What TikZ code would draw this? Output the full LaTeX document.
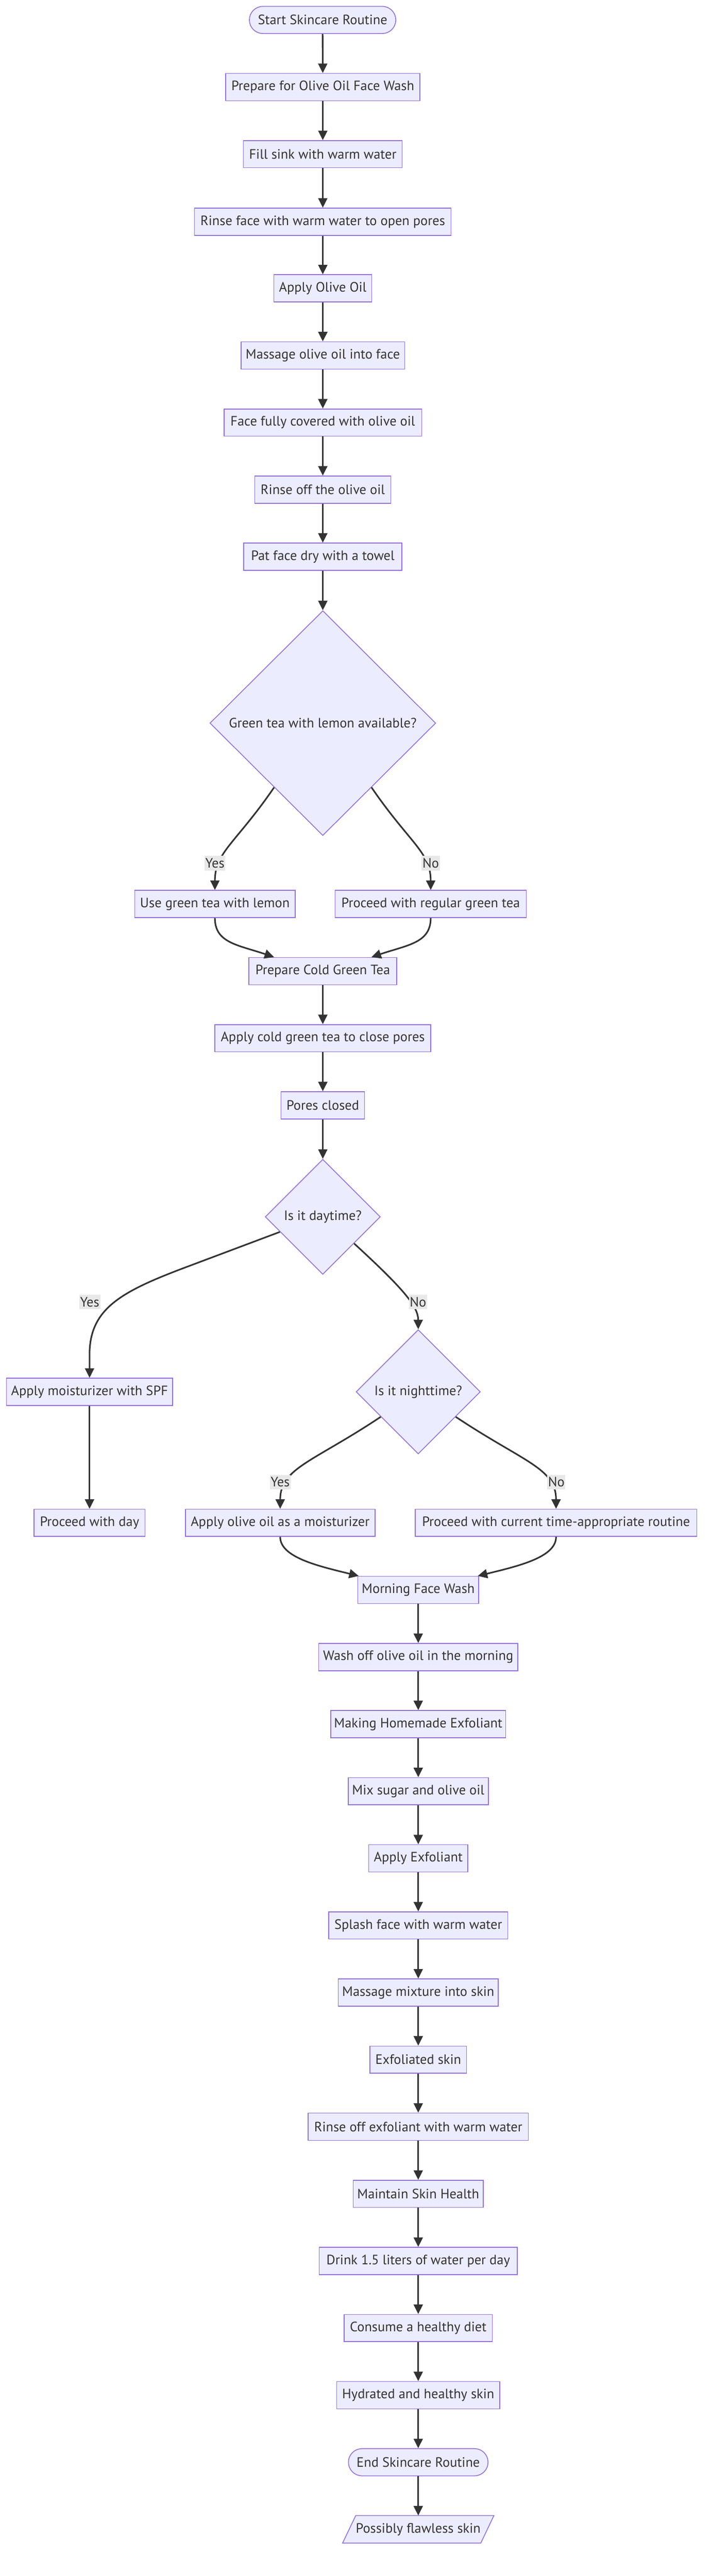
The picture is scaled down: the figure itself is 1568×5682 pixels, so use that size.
\documentclass[tikz,border=0pt]{standalone}
\usepackage{fontspec}
\setmainfont{PT Sans}
\usetikzlibrary{shapes.geometric,arrows.meta,calc,backgrounds}
\definecolor{nodefill}{HTML}{ECECFF}
\definecolor{nodeborder}{HTML}{9370DB}
\definecolor{edgecol}{HTML}{333333}
\definecolor{textcol}{HTML}{333333}
\definecolor{labelbg}{HTML}{E8E8E8}
\begin{document}
\begin{tikzpicture}[x=0.5pt,y=-0.5pt,
  txt/.style={text=textcol, font=\fontsize{15}{17}\selectfont},
  box/.style={txt, draw=nodeborder, fill=nodefill, line width=0.9pt, minimum height=30pt, inner sep=0pt},
  term/.style={box, rounded corners=15pt},
  decision/.style={txt, diamond, draw=nodeborder, fill=nodefill, line width=0.9pt, inner sep=0pt},
  flow/.style={draw=edgecol, line width=1.75pt, -{Triangle[length=10.5pt,width=10pt]}},
  elabel/.style={txt, fill=labelbg, inner sep=1pt, minimum height=16pt}
]
\begin{scope}[on background layer]
  \fill[white] (0,0) rectangle (1568,5682);
\end{scope}
\useasboundingbox (0,0) rectangle (1568,5682);

% ---- upper column
\node[term, minimum width=161.5pt] (start) at (711.5,44) {Start Skincare Routine};
\node[box, minimum width=214pt] (prep) at (712,192) {Prepare for Olive Oil Face Wash};
\node[box, minimum width=175pt] (fill) at (712,340) {Fill sink with warm water};
\node[box, minimum width=283pt] (rinse) at (712,489) {Rinse face with warm water to open pores};
\node[box, minimum width=108pt] (apply) at (712,636) {Apply Olive Oil};
\node[box, minimum width=180.5pt] (massage) at (712,784) {Massage olive oil into face};
\node[box, minimum width=218pt] (face) at (712,932) {Face fully covered with olive oil};
\node[box, minimum width=150pt] (rinseoff) at (712,1080) {Rinse off the olive oil};
\node[box, minimum width=174.5pt] (pat) at (712,1228) {Pat face dry with a towel};
\node[decision, minimum width=249pt, minimum height=248pt] (d1) at (712,1595) {Green tea with lemon available?};
\node[box, minimum width=177pt] (usegreen) at (474,1994) {Use green tea with lemon};
\node[box, minimum width=211pt] (procreg) at (950,1994) {Proceed with regular green tea};
\node[box, minimum width=163pt] (prepcold) at (712,2142) {Prepare Cold Green Tea};
\node[box, minimum width=238pt] (applycold) at (712,2290) {Apply cold green tea to close pores};
\node[box, minimum width=92pt] (pores) at (712,2438) {Pores closed};
\node[decision, minimum width=127pt, minimum height=127pt] (d2) at (712,2684) {Is it daytime?};
\node[box, minimum width=183.5pt] (spf) at (197.5,3070) {Apply moisturizer with SPF};
\node[decision, minimum width=137pt, minimum height=137pt] (night) at (922.5,3070) {Is it nighttime?};
\node[box, minimum width=122.5pt] (day) at (197.5,3359) {Proceed with day};
\node[box, minimum width=209pt] (olivem) at (618,3359) {Apply olive oil as a moisturizer};
\node[box, minimum width=310.5pt] (proccur) at (1226.5,3359) {Proceed with current time-appropriate routine};

% ---- lower column
\node[box, minimum width=133.5pt] (morning) at (922.5,3507) {Morning Face Wash};
\node[box, minimum width=219.5pt] (washoff) at (922.5,3655) {Wash off olive oil in the morning};
\node[box, minimum width=193pt] (making) at (922.5,3803) {Making Homemade Exfoliant};
\node[box, minimum width=154.5pt] (mix) at (922.5,3951) {Mix sugar and olive oil};
\node[box, minimum width=109.5pt] (applyexf) at (922.5,4099) {Apply Exfoliant};
\node[box, minimum width=197.5pt] (splash) at (922.5,4247) {Splash face with warm water};
\node[box, minimum width=176.5pt] (massmix) at (922.5,4395) {Massage mixture into skin};
\node[box, minimum width=106.5pt] (exfol) at (922.5,4543) {Exfoliated skin};
\node[box, minimum width=243pt] (rinseexf) at (922.5,4691) {Rinse off exfoliant with warm water};
\node[box, minimum width=143.5pt] (maintain) at (922.5,4839) {Maintain Skin Health};
\node[box, minimum width=218.5pt] (drink) at (922.5,4987) {Drink 1.5 liters of water per day};
\node[box, minimum width=163.5pt] (consume) at (922.5,5135) {Consume a healthy diet};
\node[box, minimum width=180pt] (hydrated) at (922.5,5283) {Hydrated and healthy skin};
\node[term, minimum width=154pt] (endnode) at (922.5,5431) {End Skincare Routine};
\node[txt, minimum width=166.5pt, minimum height=30pt, inner sep=0pt] (possibly) at (922.5,5579) {Possibly flawless skin};
\begin{scope}[on background layer]
  \draw[draw=nodeborder, fill=nodefill, line width=0.9pt]
    ([xshift=14.5pt]possibly.north west) -- (possibly.north east)
    -- ([xshift=-14.5pt]possibly.south east) -- (possibly.south west) -- cycle;
\end{scope}

% ---- border points on the decisions
\coordinate (d1y) at ($(d1.west)!0.57!(d1.south)$);
\coordinate (d1n) at ($(d1.east)!0.57!(d1.south)$);
\coordinate (d2y) at ($(d2.west)!0.26!(d2.south)$);
\coordinate (d2n) at ($(d2.east)!0.46!(d2.south)$);
\coordinate (ny) at ($(night.west)!0.4!(night.south)$);
\coordinate (nn) at ($(night.east)!0.4!(night.south)$);

% ---- straight connectors
\foreach \a/\b in {start/prep, prep/fill, fill/rinse, rinse/apply, apply/massage,
  massage/face, face/rinseoff, rinseoff/pat, pat/d1, prepcold/applycold,
  applycold/pores, pores/d2, spf/day, morning/washoff, washoff/making,
  making/mix, mix/applyexf, applyexf/splash, splash/massmix, massmix/exfol,
  exfol/rinseexf, rinseexf/maintain, maintain/drink, drink/consume,
  consume/hydrated, hydrated/endnode, endnode/possibly}
  \draw[flow] (\a) -- (\b);

% ---- curved connectors
\draw[flow] (d1y) .. controls +(-85,124) and +(0,-84) .. (usegreen.north);
\draw[flow] (d1n) .. controls +(85,124) and +(0,-84) .. (procreg.north);
\draw[flow] (usegreen.south) .. controls +(0,55) and +(-80,-27) .. ($(prepcold.north west)!0.172!(prepcold.north east)$);
\draw[flow] (procreg.south) .. controls +(0,55) and +(80,-27) .. ($(prepcold.north east)!0.172!(prepcold.north west)$);
\draw[flow] (d2y) -- ++(-213,80) .. controls +(-140,53) and +(0,-100) .. ([yshift=25.5pt]spf.north) -- (spf.north);
\draw[flow] (d2n) .. controls +(110,101) and +(0,-50) .. (night.north);
\draw[flow] (ny) .. controls +(-150,100) and +(0,-90) .. (olivem.north);
\draw[flow] (nn) .. controls +(150,100) and +(0,-90) .. (proccur.north);
\draw[flow] (olivem.south) .. controls +(0,45) and +(-90,-22) .. ([xshift=1.5pt]morning.north west);
\draw[flow] (proccur.south) .. controls +(0,45) and +(90,-22) .. ([xshift=-1.5pt]morning.north east);

% ---- edge labels
\node[elabel] (ly1) at (474,1904) {Yes};
\node[elabel] (ln1) at (950,1904) {No};
\node[elabel] (ly2) at (198,2872) {Yes};
\node[elabel] (ln2) at (922,2872) {No};
\node[elabel] (ly3) at (618,3269) {Yes};
\node[elabel] (ln3) at (1227,3269) {No};
\end{tikzpicture}
\end{document}
